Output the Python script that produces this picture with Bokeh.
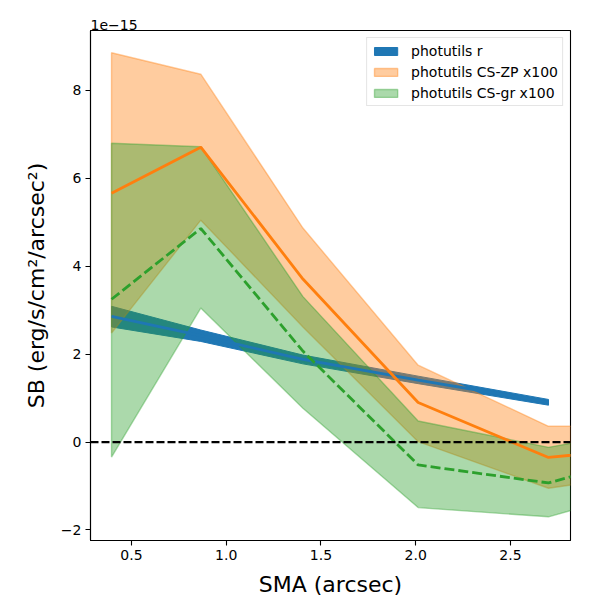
from bokeh.plotting import figure
from bokeh.models import Range1d, FixedTicker, Legend, LegendItem, Span
from bokeh.embed import file_html
from bokeh.resources import INLINE

# ---- data (surface brightness in units of 1e-15 erg/s/cm^2/arcsec^2) ----
sma = [0.395, 0.866, 1.405, 2.013, 2.701, 3.49]

r_sb = [2.86, 2.42, 1.88, 1.41, 0.905]
r_lo = [2.62, 2.29, 1.78, 1.33, 0.84]
r_hi = [3.09, 2.55, 1.98, 1.50, 0.97]

zp_sb = [5.66, 6.71, 3.71, 0.90, -0.35, -0.01]
zp_lo = [2.48, 5.05, 2.62, 0.01, -1.05, -0.57]
zp_hi = [8.86, 8.37, 4.87, 1.75, 0.36, 0.36]

gr_sb = [3.25, 4.86, 2.07, -0.52, -0.93, 0.03]
gr_lo = [-0.34, 3.05, 0.77, -1.49, -1.70, -0.74]
gr_hi = [6.80, 6.72, 3.31, 0.48, -0.12, 0.50]

x_ticks = [0.5, 1.0, 1.5, 2.0, 2.5]
x_tick_labels = ["0.5", "1.0", "1.5", "2.0", "2.5"]
y_ticks = [-2, 0, 2, 4, 6, 8]
y_tick_labels = ["\u22122", "0", "2", "4", "6", "8"]
x_lim = (0.284, 2.817)
y_lim = (-2.239, 9.365)

BLUE = "#1f77b4"
ORANGE = "#ff7f0e"
GREEN = "#2ca02c"
FONT = "DejaVu Sans"

p = figure(frame_width=480, frame_height=510,
           x_range=Range1d(*x_lim), y_range=Range1d(*y_lim),
           output_backend="svg", toolbar_location=None,
           min_border_left=90, min_border_right=22,
           min_border_top=30, min_border_bottom=50,
           title="1e\u221215")

p.title.align = "left"
p.title.text_font = FONT
p.title.text_font_size = "14px"
p.title.text_font_style = "normal"
p.title.text_color = "black"
p.title.standoff = 2
p.title.offset = 0

def band(x, lo, hi):
    n = len(lo)
    xs = list(x[:n]) + list(x[:n])[::-1]
    ys = list(hi) + list(lo)[::-1]
    return xs, ys

bx, by = band(sma, r_lo, r_hi)
r_patch = p.patch(bx, by, fill_color=BLUE, fill_alpha=1.0,
                  line_color=BLUE, line_alpha=1.0, line_width=1)
zx, zy = band(sma, zp_lo, zp_hi)
zp_patch = p.patch(zx, zy, fill_color=ORANGE, fill_alpha=0.4,
                   line_color=ORANGE, line_alpha=0.4, line_width=1.4)
gx, gy = band(sma, gr_lo, gr_hi)
gr_patch = p.patch(gx, gy, fill_color=GREEN, fill_alpha=0.4,
                   line_color=GREEN, line_alpha=0.4, line_width=1.4)

p.line(sma[:len(r_sb)], r_sb, line_color=BLUE, line_width=2.8)
p.line(sma, zp_sb, line_color=ORANGE, line_width=2.8)
p.line(sma, gr_sb, line_color=GREEN, line_width=2.8, line_dash="10 4")

zero = Span(location=0, dimension="width", line_color="black",
            line_width=2.1, line_dash="8 3")
p.add_layout(zero)

p.grid.visible = False
p.outline_line_color = "black"
p.outline_line_width = 1.1
p.outline_line_alpha = 1.0

for ax in (p.xaxis[0], p.yaxis[0]):
    ax.axis_line_color = "black"
    ax.axis_line_width = 1.1
    ax.major_tick_line_color = "black"
    ax.major_tick_line_width = 1.1
    ax.major_tick_out = 5
    ax.major_tick_in = 0
    ax.minor_tick_line_color = None
    ax.major_label_text_font = FONT
    ax.major_label_text_font_size = "14px"
    ax.major_label_text_color = "black"
    ax.major_label_standoff = 4
    ax.axis_label_text_font = FONT
    ax.axis_label_text_font_size = "22px"
    ax.axis_label_text_font_style = "normal"
    ax.axis_label_text_color = "black"

p.xaxis.ticker = FixedTicker(ticks=x_ticks)
p.xaxis.major_label_overrides = {t: s for t, s in zip(x_ticks, x_tick_labels)}
p.yaxis.ticker = FixedTicker(ticks=y_ticks)
p.yaxis.major_label_overrides = {t: s for t, s in zip(y_ticks, y_tick_labels)}
p.xaxis.axis_label = "SMA (arcsec)"
p.yaxis.axis_label = "SB (erg/s/cm\u00b2/arcsec\u00b2)"
p.xaxis.axis_label_standoff = 9
p.yaxis.axis_label_standoff = 9

legend = Legend(items=[
    LegendItem(label="photutils r", renderers=[r_patch]),
    LegendItem(label="photutils CS-ZP x100", renderers=[zp_patch]),
    LegendItem(label="photutils CS-gr x100", renderers=[gr_patch]),
], location="top_right")
legend.margin = 7
legend.padding = 4
legend.spacing = 4
legend.label_height = 17
legend.glyph_height = 10
legend.glyph_width = 29
legend.label_standoff = 11
legend.label_text_font = FONT
legend.label_text_font_size = "14px"
legend.label_text_color = "black"
legend.border_line_color = "#cccccc"
legend.border_line_width = 1
legend.background_fill_alpha = 0.8
p.add_layout(legend)

open("out.html", "w").write(file_html(p, INLINE))
